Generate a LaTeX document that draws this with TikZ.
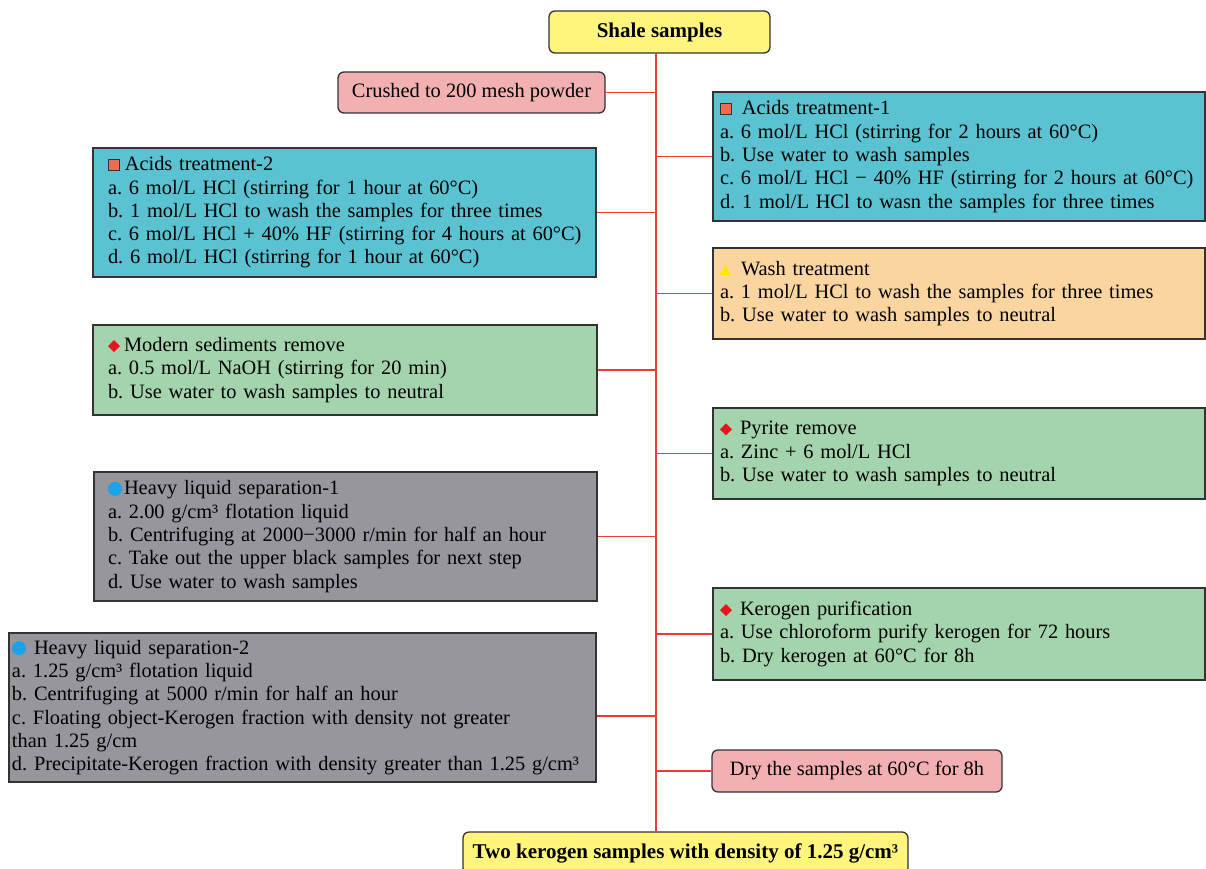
\documentclass[tikz,border=0pt]{standalone}
\usepackage{fontspec}
\setmainfont{Liberation Serif}
\frenchspacing
\definecolor{cyel}{HTML}{FFF57C}
\definecolor{cpink}{HTML}{F2B0B3}
\definecolor{cteal}{HTML}{5BC2D1}
\definecolor{corange}{HTML}{FAD5A0}
\definecolor{cgreen}{HTML}{A4D4AD}
\definecolor{cgrey}{HTML}{96969C}
\definecolor{cred}{HTML}{EE3B33}
\definecolor{csq}{HTML}{EE6A50}
\definecolor{ctri}{HTML}{FFE600}
\definecolor{cdia}{HTML}{E8141E}
\definecolor{ccir}{HTML}{1AA3E8}
\newcommand{\li}[1]{\mbox{#1}}
\newcommand{\symsq}{\tikz[baseline=0pt]\draw[fill=csq,draw=black!80,line width=0.8pt] (0pt,0pt) rectangle (11pt,11pt);}
\newcommand{\symtri}{\tikz[baseline=0pt]\fill[ctri] (0pt,0pt) -- (11pt,0pt) -- (5.5pt,10pt) -- cycle;}
\newcommand{\symdia}{\tikz[baseline=0pt]\fill[cdia] (6pt,-0.5pt) -- (12pt,5.5pt) -- (6pt,11.5pt) -- (0pt,5.5pt) -- cycle;}
\newcommand{\symcir}{\tikz[baseline=0pt]\fill[ccir] (7pt,6pt) circle (7pt);}
\begin{document}
\begin{tikzpicture}[x=1pt,y=-1pt,
  box/.style={draw=black!80, line width=1.3pt, align=left, inner sep=0pt,
    font=\fontsize{20.4}{23.3}\selectfont},
  rbox/.style={box, rounded corners=6pt, align=center},
  conn/.style={draw=cred, line width=1.5pt}]
\useasboundingbox (0,0) rectangle (1206,869);
\coordinate (t) at (656,0);

\node[rbox, fill=cyel, minimum width=221pt, minimum height=42pt, font=\fontsize{21}{23.3}\selectfont\bfseries] (shale) at (659.5,32) {Shale samples};
\node[rbox, fill=cpink, minimum width=267pt, minimum height=41pt] (crush) at (471.5,92.5) {Crushed to 200 mesh powder};

\node[box, fill=cteal, minimum width=492pt, minimum height=129pt, text width=478pt] (a1) at (959,156.5)
 {\li{\symsq\hspace{10pt}Acids treatment-1}\\
  \li{a. 6 mol/L HCl (stirring for 2 hours at 60°C)}\\
  \li{b. Use water to wash samples}\\
  \li{c. 6 mol/L HCl − 40\% HF (stirring for 2 hours at 60°C)}\\
  \li{d. 1 mol/L HCl to wasn the samples for three times}};

\node[box, fill=cteal, minimum width=503pt, minimum height=129pt, text width=473pt] (a2) at (344.5,212.5)
 {\li{\symsq\hspace{5pt}Acids treatment-2}\\
  \li{a. 6 mol/L HCl (stirring for 1 hour at 60°C)}\\
  \li{b. 1 mol/L HCl to wash the samples for three times}\\
  \li{c. 6 mol/L HCl + 40\% HF (stirring for 4 hours at 60°C)}\\
  \li{d. 6 mol/L HCl (stirring for 1 hour at 60°C)}};

\node[box, fill=corange, minimum width=492pt, minimum height=91pt, text width=478pt] (wash) at (959,293.5)
 {\li{\symtri\hspace{10pt}Wash treatment}\\
  \li{a. 1 mol/L HCl to wash the samples for three times}\\
  \li{b. Use water to wash samples to neutral}};

\node[box, fill=cgreen, minimum width=504pt, minimum height=90pt, text width=474pt] (mod) at (345,370)
 {\li{\symdia\hspace{4pt}Modern sediments remove}\\
  \li{a. 0.5 mol/L NaOH (stirring for 20 min)}\\
  \li{b. Use water to wash samples to neutral}};

\node[box, fill=cgreen, minimum width=492pt, minimum height=91pt, text width=478pt] (pyr) at (959,453.5)
 {\li{\symdia\hspace{8pt}Pyrite remove}\\
  \li{a. Zinc + 6 mol/L HCl}\\
  \li{b. Use water to wash samples to neutral}};

\node[box, fill=cgrey, minimum width=503pt, minimum height=129pt, text width=475pt] (h1) at (345.5,536.5)
 {\li{\symcir\hspace{2pt}Heavy liquid separation-1}\\
  \li{a. 2.00 g/cm³ flotation liquid}\\
  \li{b. Centrifuging at 2000−3000 r/min for half an hour}\\
  \li{c. Take out the upper black samples for next step}\\
  \li{d. Use water to wash samples}};

\node[box, fill=cgreen, minimum width=492pt, minimum height=92pt, text width=478pt] (ker) at (959,634)
 {\li{\symdia\hspace{8pt}Kerogen purification}\\
  \li{a. Use chloroform purify kerogen for 72 hours}\\
  \li{b. Dry kerogen at 60°C for 8h}};

\node[box, fill=cgrey, minimum width=587pt, minimum height=149pt, text width=581pt] (h2) at (302.5,707.5)
 {\li{\symcir\hspace{8pt}Heavy liquid separation-2}\\
  \li{a. 1.25 g/cm³ flotation liquid}\\
  \li{b. Centrifuging at 5000 r/min for half an hour}\\
  \li{c. Floating object-Kerogen fraction with density not greater}\\
  \li{than 1.25 g/cm}\\
  \li{d. Precipitate-Kerogen fraction with density greater than 1.25 g/cm³}};

\node[rbox, fill=cpink, minimum width=290pt, minimum height=42pt] (dry) at (857,771) {Dry the samples at 60°C for 8h};
\node[rbox, fill=cyel, minimum width=445pt, minimum height=42pt, font=\fontsize{21}{23.3}\selectfont\bfseries] (two) at (685.5,853) {Two kerogen samples with density of 1.25 g/cm³};

\draw[conn] (shale.south -| t) -- (two.north -| t);
\draw[conn] (crush.east) -- (crush.east -| t);
\draw[conn] (a1.west) -- (a1.west -| t);
\draw[conn] (a2.east) -- (a2.east -| t);
\draw[conn] (wash.west) -- (wash.west -| t);
\draw[conn] (mod.east) -- (mod.east -| t);
\draw[conn] (pyr.west) -- (pyr.west -| t);
\draw[conn] (h1.east) -- (h1.east -| t);
\draw[conn] (ker.west) -- (ker.west -| t);
\draw[conn] ([yshift=-8.5pt]h2.east) -- ([yshift=-8.5pt]h2.east -| t);
\draw[conn] (dry.west) -- (dry.west -| t);
\end{tikzpicture}
\end{document}
